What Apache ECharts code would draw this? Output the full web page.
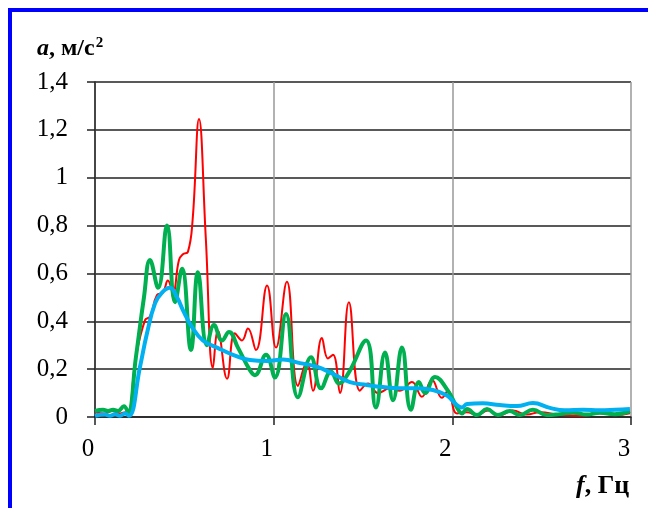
<!DOCTYPE html>
<html>
<head>
<meta charset="utf-8">
<script src="https://cdn.jsdelivr.net/npm/echarts@6/dist/echarts.min.js"></script>
<style>
  html, body { margin: 0; padding: 0; background: #fff; }
  #chart { width: 648px; height: 508px; }
</style>
</head>
<body>
<div id="chart"></div>
<script>
// Acceleration spectra a(f): three records
const redF = [0, 0.056, 0.095, 0.14, 0.173, 0.185, 0.229, 0.28, 0.308, 0.347, 0.38, 0.408, 0.436, 0.47, 0.492, 0.52, 0.546, 0.582, 0.62, 0.66, 0.688, 0.739, 0.783, 0.823, 0.856, 0.901, 0.963, 1.013, 1.074, 1.136, 1.186, 1.22, 1.27, 1.304, 1.332, 1.371, 1.421, 1.483, 1.528, 1.584, 1.651, 1.707, 1.774, 1.83, 1.886, 1.942, 1.975, 2.026, 2.082, 2.138, 2.2, 2.266, 2.339, 2.417, 2.49, 2.602, 2.714, 2.826, 2.91, 2.994];
const redA = [0.02, 0.015, 0.025, 0.015, 0.02, 0.015, 0.25, 0.405, 0.42, 0.51, 0.52, 0.57, 0.52, 0.656, 0.68, 0.69, 0.82, 1.245, 0.75, 0.205, 0.36, 0.16, 0.35, 0.32, 0.37, 0.28, 0.55, 0.29, 0.565, 0.13, 0.23, 0.11, 0.33, 0.245, 0.26, 0.10, 0.48, 0.11, 0.14, 0.10, 0.12, 0.11, 0.146, 0.085, 0.155, 0.08, 0.11, 0.015, 0.02, 0.008, 0.027, 0.008, 0.027, 0.01, 0.02, 0.008, 0.005, 0.016, 0.008, 0.016];

const greenF = [0, 0.045, 0.073, 0.101, 0.129, 0.162, 0.185, 0.229, 0.274, 0.308, 0.353, 0.403, 0.448, 0.487, 0.537, 0.576, 0.627, 0.666, 0.711, 0.75, 0.8, 0.867, 0.895, 0.957, 1.007, 1.069, 1.136, 1.209, 1.265, 1.321, 1.365, 1.416, 1.517, 1.572, 1.623, 1.668, 1.718, 1.768, 1.813, 1.847, 1.903, 1.975, 2.026, 2.054, 2.082, 2.138, 2.194, 2.255, 2.322, 2.378, 2.451, 2.529, 2.602, 2.675, 2.753, 2.826, 2.91, 2.994];
const greenA = [0.025, 0.03, 0.025, 0.03, 0.025, 0.045, 0.02, 0.25, 0.50, 0.656, 0.54, 0.80, 0.48, 0.62, 0.28, 0.605, 0.30, 0.385, 0.32, 0.355, 0.29, 0.196, 0.175, 0.26, 0.165, 0.43, 0.083, 0.25, 0.12, 0.19, 0.14, 0.18, 0.32, 0.04, 0.27, 0.07, 0.29, 0.03, 0.146, 0.10, 0.167, 0.11, 0.04, 0.015, 0.033, 0.008, 0.033, 0.008, 0.025, 0.008, 0.03, 0.008, 0.012, 0.018, 0.01, 0.018, 0.012, 0.025];

const blueF = [0, 0.056, 0.084, 0.112, 0.14, 0.168, 0.19, 0.252, 0.291, 0.336, 0.375, 0.42, 0.459, 0.492, 0.543, 0.604, 0.683, 0.772, 0.867, 0.963, 1.052, 1.147, 1.242, 1.332, 1.427, 1.522, 1.612, 1.707, 1.802, 1.891, 1.97, 2.015, 2.054, 2.082, 2.171, 2.266, 2.361, 2.451, 2.546, 2.63, 2.731, 2.826, 2.91, 2.994];
const blueA = [0.005, 0.01, 0.005, 0.012, 0.005, 0.015, 0.005, 0.21, 0.35, 0.475, 0.52, 0.54, 0.50, 0.447, 0.376, 0.32, 0.29, 0.26, 0.238, 0.234, 0.24, 0.225, 0.21, 0.18, 0.146, 0.134, 0.125, 0.12, 0.12, 0.113, 0.09, 0.057, 0.04, 0.054, 0.057, 0.05, 0.046, 0.058, 0.038, 0.028, 0.03, 0.028, 0.03, 0.033];

const xTicks = [0, 1, 2, 3];
const yTicks = [0, 0.2, 0.4, 0.6, 0.8, 1, 1.2, 1.4];

const pairs = (fs, as) => fs.map((f, i) => [f, as[i]]);
const serif = '"Liberation Serif", "Times New Roman", serif';

const chart = echarts.init(document.getElementById('chart'), null, { renderer: 'canvas' });

chart.setOption({
  animation: false,
  backgroundColor: '#ffffff',
  grid: { left: 95, right: 17, top: 82, bottom: 91, containLabel: false },
  xAxis: {
    type: 'value',
    min: xTicks[0],
    max: xTicks[xTicks.length - 1],
    interval: 1,
    axisLine: { show: true, onZero: false, lineStyle: { color: '#222', width: 1.5 } },
    axisTick: { show: true, inside: false, length: 8, lineStyle: { color: '#222', width: 1.5 } },
    axisLabel: {
      margin: 20,
      padding: [0, 14, 0, 0],
      fontFamily: serif, fontSize: 25, color: '#000',
      formatter: v => String(v)
    },
    splitLine: { show: true, lineStyle: { color: '#999', width: 1.5 } }
  },
  yAxis: {
    type: 'value',
    min: yTicks[0],
    max: yTicks[yTicks.length - 1],
    interval: 0.2,
    axisLine: { show: true, lineStyle: { color: '#222', width: 1.5 } },
    axisTick: { show: true, inside: false, length: 8, lineStyle: { color: '#222', width: 1.5 } },
    axisLabel: {
      margin: 27,
      fontFamily: serif, fontSize: 25, color: '#000',
      formatter: v => String(+v.toFixed(1)).replace('.', ',')
    },
    splitLine: { show: true, lineStyle: { color: '#222', width: 1.5 } }
  },
  series: [
    {
      name: 'red', type: 'line', data: pairs(redF, redA),
      smooth: 0.45, showSymbol: false,
      lineStyle: { color: '#ff0000', width: 2 }, z: 2
    },
    {
      name: 'green', type: 'line', data: pairs(greenF, greenA),
      smooth: 0.45, showSymbol: false,
      lineStyle: { color: '#00b050', width: 4 }, z: 3
    },
    {
      name: 'blue', type: 'line', data: pairs(blueF, blueA),
      smooth: 0.45, showSymbol: false,
      lineStyle: { color: '#00b0f0', width: 4 }, z: 4
    }
  ],
  graphic: [
    // frame lines along the top and left edges
    { type: 'line', shape: { x1: 8, y1: 10, x2: 648, y2: 10 }, style: { stroke: '#0000ff', lineWidth: 4 } },
    { type: 'line', shape: { x1: 10, y1: 8, x2: 10, y2: 508 }, style: { stroke: '#0000ff', lineWidth: 4 } },
    // axis titles
    {
      type: 'text', left: 37, top: 36,
      style: {
        text: '{i|a}{b|, м/с}{s|2}',
        rich: {
          i: { fontFamily: serif, fontSize: 24, fontWeight: 'bold', fontStyle: 'italic', fill: '#000' },
          b: { fontFamily: serif, fontSize: 24, fontWeight: 'bold', fill: '#000' },
          s: { fontFamily: serif, fontSize: 15, fontWeight: 'bold', fill: '#000', verticalAlign: 'top', padding: [0, 0, 10, 1] }
        }
      }
    },
    {
      type: 'text', left: 576, top: 473,
      style: {
        text: '{i|f}{b|, Гц}',
        rich: {
          i: { fontFamily: serif, fontSize: 26, fontWeight: 'bold', fontStyle: 'italic', fill: '#000' },
          b: { fontFamily: serif, fontSize: 26, fontWeight: 'bold', fill: '#000' }
        }
      }
    }
  ]
});
</script>
</body>
</html>
